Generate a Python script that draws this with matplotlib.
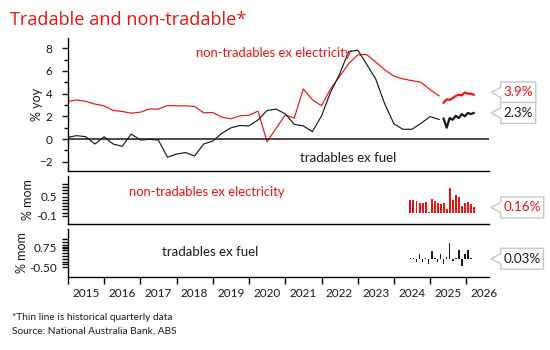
import matplotlib
matplotlib.use('Agg')
import matplotlib.pyplot as plt
import matplotlib.dates as mdates
from matplotlib.ticker import FixedLocator, NullFormatter, FixedFormatter
from matplotlib.patches import Polygon
from matplotlib.transforms import IdentityTransform
import numpy as np
import pandas as pd

# ---------------- data ----------------
# quarterly yoy (Dec-2014 quarter .. Mar-2025 quarter), thin lines
q_start = '2014-12-31'
nontrad_q = [3.32, 3.44, 3.32, 3.08, 2.93, 2.52, 2.43, 2.28, 2.37, 2.64,
             2.64, 2.96, 2.93, 2.93, 2.87, 2.31, 2.34, 1.93, 1.78, 2.04,
             2.10, 2.46, -0.24, 0.95, 2.13, 1.84, 4.42, 3.47, 2.93, 4.40,
             5.50, 6.63, 7.42, 7.45, 6.80, 6.10, 5.55, 5.30, 5.15, 5.00,
             4.35, 3.80]
trad_q = [0.15, 0.30, 0.20, -0.44, 0.20, -0.44, -0.65, 0.44, -0.09, -0.03,
          -0.09, -1.60, -1.33, -1.19, -1.50, -0.44, -0.18, 0.50, 0.98, 1.19,
          1.16, 1.69, 2.52, 2.64, 2.22, 1.30, 1.16, 0.65, 2.04, 4.10,
          5.70, 7.70, 7.85, 6.60, 5.30, 3.10, 1.35, 0.86, 0.86, 1.39,
          1.98, 1.72]

# monthly yoy (May-2025 .. Mar-2026), thick lines
m_start = '2025-05-01'
nontrad_m = [3.20, 3.50, 3.45, 3.60, 3.80, 3.90, 3.85, 4.10, 4.00, 4.00, 3.90]
trad_m = [1.80, 1.00, 1.85, 1.70, 2.05, 1.85, 2.20, 2.00, 2.30, 2.20, 2.30]

# monthly mom (Jun-2024 .. Mar-2026), bars
b_start = '2024-06-01'
nontrad_mom = [0.40, 0.38, 0.35, 0.30, 0.30, 0.33, 0.02, 0.44, 0.36, 0.30,
               0.28, 0.31, 0.12, 0.76, 0.38, 0.55, 0.50, 0.20, 0.30, 0.33,
               0.28, 0.16]
trad_mom = [0.05, 0.10, -0.15, 0.30, -0.20, 0.10, -0.30, 0.50, 0.05, -0.20,
            0.35, -0.30, 0.15, 1.00, -0.10, 0.10, 0.55, -0.40, 0.30, 0.55,
            0.05, 0.03]

labels_nontrad = 'non-tradables ex electricity'
labels_trad = 'tradables ex fuel'

q_dates = pd.date_range(q_start, periods=len(nontrad_q), freq='QE')
m_dates = pd.date_range(m_start, periods=len(nontrad_m), freq='MS') + pd.Timedelta(days=14)
b_dates = pd.date_range(b_start, periods=len(nontrad_mom), freq='MS') + pd.Timedelta(days=14)

# ---------------- style ----------------
RED = '#ee1111'
BLACK = '#1a1a1a'
GRID = '#c8c8c8'
plt.rcParams['font.family'] = ['Lato', 'DejaVu Sans']
plt.rcParams['axes.linewidth'] = 1.0
plt.rcParams['xtick.major.width'] = 1.0
plt.rcParams['ytick.major.width'] = 1.0
plt.rcParams['ytick.minor.width'] = 1.0

W, H = 550, 350
fig = plt.figure(figsize=(W / 100, H / 100), dpi=100)


def px_axes(x0, ytop, x1, ybot):
    return [x0 / W, 1 - ybot / H, (x1 - x0) / W, (ybot - ytop) / H]


ax1 = fig.add_axes(px_axes(68, 38, 489.3, 171))
ax2 = fig.add_axes(px_axes(68, 176, 489.3, 224))
ax3 = fig.add_axes(px_axes(68, 229, 489.3, 277))

xmin = mdates.date2num(pd.Timestamp('2015-01-01'))
xmax = mdates.date2num(pd.Timestamp('2026-08-19'))

for ax in (ax1, ax2, ax3):
    ax.set_xlim(xmin, xmax)
    for s in ('top', 'right'):
        ax.spines[s].set_visible(False)
    ax.tick_params(axis='y', labelsize=8.5, colors=BLACK, direction='out')

# ---- top panel ----
ax1.plot(q_dates, nontrad_q, color=RED, lw=0.85)
ax1.plot(q_dates, trad_q, color=BLACK, lw=0.85)
ax1.plot(m_dates, nontrad_m, color=RED, lw=1.6)
ax1.plot(m_dates, trad_m, color=BLACK, lw=1.6)
ax1.axhline(0, color=BLACK, lw=1.1)
ax1.set_ylim(-2.82, 8.91)
ax1.yaxis.set_major_locator(FixedLocator([-2, 0, 2, 4, 6, 8]))
ax1.yaxis.set_minor_locator(FixedLocator([-1, 1, 3, 5, 7]))
ax1.tick_params(axis='y', which='major', length=4.2, pad=7)
ax1.tick_params(axis='y', which='minor', length=3.2)
ax1.tick_params(axis='x', which='both', bottom=False, labelbottom=False)
ax1.set_ylabel('% yoy', fontsize=9, color=BLACK)
ax1.yaxis.set_label_coords((43.3 - 68) / 421.3, 0.5)

# ---- middle panel ----
ax2.bar(b_dates, nontrad_mom, width=20, color=RED, linewidth=0)
ax2.set_ylim(-0.36, 1.15)
ax2.yaxis.set_major_locator(FixedLocator([-0.1, 0.5]))
ax2.yaxis.set_major_formatter(FixedFormatter(['-0.1', '0.5']))
ax2.yaxis.set_minor_locator(FixedLocator(np.arange(0.0, 0.95, 0.1)))
ax2.tick_params(axis='y', which='both', length=4.2, pad=3.5)
ax2.tick_params(axis='x', which='both', bottom=False, labelbottom=False)
ax2.set_ylabel('% mom', fontsize=9, color=BLACK)
ax2.yaxis.set_label_coords((34.2 - 68) / 421.3, 0.5)

# ---- bottom panel ----
ax3.bar(b_dates, trad_mom, width=17, color=BLACK, linewidth=0)
ax3.set_ylim(-1.11, 1.89)
ax3.yaxis.set_major_locator(FixedLocator([-0.5, 0.75]))
ax3.yaxis.set_major_formatter(FixedFormatter(['-0.50', '0.75']))
ax3.yaxis.set_minor_locator(FixedLocator(np.linspace(-0.5, 1.25, 11)))
ax3.tick_params(axis='y', which='both', length=4.2, pad=3.5)
ax3.set_ylabel('% mom', fontsize=9, color=BLACK)
ax3.yaxis.set_label_coords((27.5 - 68) / 421.3, 0.5)

ax3.xaxis.set_major_locator(mdates.YearLocator())
ax3.xaxis.set_major_formatter(NullFormatter())
ax3.xaxis.set_minor_locator(mdates.MonthLocator(bymonth=7))
ax3.xaxis.set_minor_formatter(mdates.DateFormatter('%Y'))
ax3.tick_params(axis='x', which='major', length=5, width=1.0, direction='out')
ax3.tick_params(axis='x', which='minor', length=0, pad=8, labelsize=8.5, colors=BLACK)


# ---------------- texts ----------------
def ftext(xp, yp, s, **kw):
    return fig.text(xp / W, 1 - yp / H, s, **kw)


ftext(10, 25, 'Tradable and non-tradable*', fontsize=13.1, color=RED,
      family=['Open Sans', 'DejaVu Sans'], va='baseline')
ftext(196, 53, labels_nontrad, fontsize=9.4, color=RED, va='center')
ftext(300, 158, labels_trad, fontsize=9.5, color=BLACK, va='center')
ftext(129.3, 191.7, labels_nontrad, fontsize=9.4, color=RED, va='center')
ftext(161.7, 252.3, labels_trad, fontsize=9.5, color=BLACK, va='center')
ftext(12, 317, '*Thin line is historical quarterly data', fontsize=7.3, color=BLACK, va='center')
ftext(12, 331, 'Source: National Australia Bank, ABS', fontsize=7.3, color=BLACK, va='center')

# ---------------- end-value tags ----------------
fig.canvas.draw()
renderer = fig.canvas.get_renderer()

BOX_H = 21
TIP_X = 491
BOX_L = 500.7


def tag(ydisp, txt, color):
    t = fig.text(BOX_L + 2.5, ydisp, txt, transform=IdentityTransform(),
                 fontsize=9.7, color=color, va='center', ha='left', zorder=5)
    bb = t.get_window_extent(renderer)
    bw = bb.width + 5.5
    x0 = BOX_L
    pts = [(TIP_X, ydisp), (x0, ydisp + 5), (x0, ydisp + BOX_H / 2),
           (x0 + bw, ydisp + BOX_H / 2), (x0 + bw, ydisp - BOX_H / 2),
           (x0, ydisp - BOX_H / 2), (x0, ydisp - 5)]
    poly = Polygon(pts, closed=True, facecolor='white', edgecolor=GRID,
                   lw=1.0, transform=IdentityTransform(), zorder=4)
    fig.patches.append(poly)


def ydisp(ax, v):
    return ax.transData.transform((xmin, v))[1]


y_red = ydisp(ax1, nontrad_m[-1])
y_blk = ydisp(ax1, trad_m[-1])
if y_red - y_blk < BOX_H:
    y_red = y_blk + BOX_H - 0.5
tag(y_red, f'{nontrad_m[-1]:.1f}%', RED)
tag(y_blk, f'{trad_m[-1]:.1f}%', BLACK)
tag(ydisp(ax2, nontrad_mom[-1]), f'{nontrad_mom[-1]:.2f}%', RED)
tag(ydisp(ax3, trad_mom[-1]), f'{trad_mom[-1]:.2f}%', BLACK)

fig.savefig('out.png', dpi=100)
